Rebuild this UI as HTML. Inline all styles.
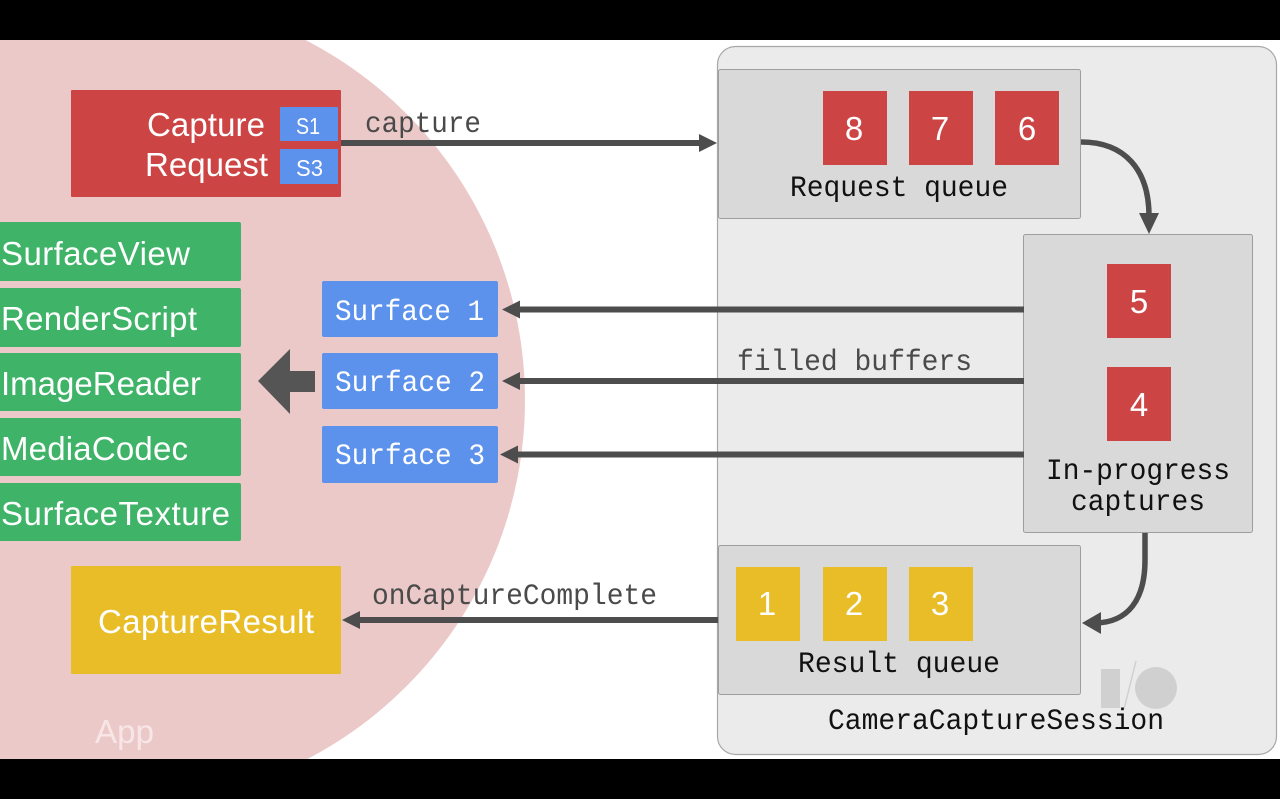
<!DOCTYPE html>
<html>
<head>
<meta charset="utf-8">
<style>
html,body{margin:0;padding:0;background:#000;width:1280px;height:799px;overflow:hidden}
svg{display:block;filter:blur(0.35px)}
.s{font-family:"Liberation Sans",sans-serif;fill:#fff}
.m{font-family:"Liberation Mono",monospace}
</style>
</head>
<body>
<svg width="1280" height="799" viewBox="0 0 1280 799" xmlns="http://www.w3.org/2000/svg">
<defs><clipPath id="c"><rect x="0" y="40" width="1280" height="719"/></clipPath></defs>
<rect width="1280" height="799" fill="#000"/>
<g clip-path="url(#c)">
<rect x="0" y="40" width="1280" height="719" fill="#fff"/>
<circle cx="120" cy="400" r="405" fill="#ecc9c9"/>
<rect x="717.5" y="46.5" width="559" height="708" rx="18" fill="#ebebeb" stroke="#a8a8a8" stroke-width="1.2"/>
</g>

<!-- IO logo -->
<rect x="1101" y="669" width="19" height="39" fill="#d0d0d0"/>
<circle cx="1156" cy="688" r="21" fill="#d0d0d0"/>
<line x1="1136" y1="661" x2="1124" y2="709" stroke="#d0d0d0" stroke-width="1.5"/>

<!-- inner panels -->
<rect x="718.5" y="69.5" width="362" height="149" rx="2" fill="#d9d9d9" stroke="#9e9e9e"/>
<rect x="1023.5" y="234.5" width="229" height="298" rx="2" fill="#d9d9d9" stroke="#9e9e9e"/>
<rect x="718.5" y="545.5" width="362" height="149" rx="2" fill="#d9d9d9" stroke="#9e9e9e"/>

<!-- App boxes -->
<rect x="71" y="90" width="270" height="107" rx="1" fill="#cc4444"/>
<rect x="280" y="107" width="58" height="34" fill="#5c91ec"/>
<rect x="280" y="149" width="58" height="35" fill="#5c91ec"/>
<rect x="-5" y="222" width="246" height="59" rx="2" fill="#3fb367"/>
<rect x="-5" y="288" width="246" height="59" rx="2" fill="#3fb367"/>
<rect x="-5" y="353" width="246" height="58" rx="2" fill="#3fb367"/>
<rect x="-5" y="418" width="246" height="58" rx="2" fill="#3fb367"/>
<rect x="-5" y="483" width="246" height="58" rx="2" fill="#3fb367"/>
<rect x="322" y="281" width="176" height="56" rx="2" fill="#5c91ec"/>
<rect x="322" y="353" width="176" height="56" rx="2" fill="#5c91ec"/>
<rect x="322" y="426" width="176" height="57" rx="2" fill="#5c91ec"/>
<rect x="71" y="566" width="270" height="108" rx="1" fill="#e8bd27"/>

<!-- squares -->
<rect x="823" y="91" width="64" height="74" fill="#cc4444"/>
<rect x="909" y="91" width="64" height="74" fill="#cc4444"/>
<rect x="995" y="91" width="64" height="74" fill="#cc4444"/>
<rect x="1107" y="264" width="64" height="74" fill="#cc4444"/>
<rect x="1107" y="367" width="64" height="74" fill="#cc4444"/>
<rect x="736" y="567" width="64" height="74" fill="#e8bd27"/>
<rect x="823" y="567" width="64" height="74" fill="#e8bd27"/>
<rect x="909" y="567" width="64" height="74" fill="#e8bd27"/>

<!-- connectors -->
<g fill="#4d4d4d" stroke="none">
<rect x="341" y="140" width="362" height="6"/>
<polygon points="717,143 699,134 699,152"/>
<rect x="516" y="306.500" width="508" height="6"/>
<polygon points="502,309.500 520,300.500 520,318.500"/>
<rect x="516" y="378" width="508" height="6"/>
<polygon points="502,381 520,372 520,390"/>
<rect x="516" y="451.500" width="508" height="6"/>
<polygon points="500,454.500 518,445.500 518,463.500"/>
<rect x="358" y="617" width="360" height="6"/>
<polygon points="342,620 360,611 360,629"/>
<polygon points="1149,234 1139,213 1159,213"/>
<polygon points="1082,623 1101,612 1101,634"/>
<polygon points="258,381 290,349 290,371 315,371 315,392 290,392 290,414" fill="#555"/>
</g>
<path d="M1081,142 C1125,142 1149,170 1149,216" fill="none" stroke="#4d4d4d" stroke-width="5.500"/>
<path d="M1145,533 L1145,560 C1145,600 1128,622 1096,623" fill="none" stroke="#4d4d4d" stroke-width="5.500"/>

<!-- sans text -->
<g class="s">
<text x="147" y="136" font-size="33" textLength="118">Capture</text>
<text x="145" y="176" font-size="33" textLength="123">Request</text>
<text x="296" y="134" font-size="23" textLength="24" lengthAdjust="spacingAndGlyphs">S1</text>
<text x="296" y="176" font-size="23" textLength="27" lengthAdjust="spacingAndGlyphs">S3</text>
<text x="1" y="265" font-size="33" textLength="189">SurfaceView</text>
<text x="1" y="330" font-size="33" textLength="196">RenderScript</text>
<text x="1" y="395" font-size="33" textLength="200">ImageReader</text>
<text x="1" y="460" font-size="33" textLength="187">MediaCodec</text>
<text x="1" y="525" font-size="33" textLength="229">SurfaceTexture</text>
<text x="98" y="633" font-size="33" textLength="216">CaptureResult</text>
<text x="95" y="743" font-size="33" textLength="59" style="fill:#f8e6e6">App</text>
<g font-size="33" text-anchor="middle">
<text x="854" y="140">8</text>
<text x="940" y="140">7</text>
<text x="1027" y="140">6</text>
<text x="1139" y="313">5</text>
<text x="1139" y="416">4</text>
<text x="767" y="615">1</text>
<text x="854" y="615">2</text>
<text x="940" y="615">3</text>
</g>
</g>

<!-- mono text -->
<g class="m" font-size="30">
<text x="365" y="132" fill="#4a4a4a" textLength="116" lengthAdjust="spacingAndGlyphs">capture</text>
<text x="737" y="370" fill="#4a4a4a" textLength="235" lengthAdjust="spacingAndGlyphs">filled buffers</text>
<text x="372" y="604" fill="#4a4a4a" textLength="285" lengthAdjust="spacingAndGlyphs">onCaptureComplete</text>
<text x="335" y="320" fill="#fff" textLength="149" lengthAdjust="spacingAndGlyphs">Surface 1</text>
<text x="335" y="391" fill="#fff" textLength="150" lengthAdjust="spacingAndGlyphs">Surface 2</text>
<text x="335" y="464" fill="#fff" textLength="150" lengthAdjust="spacingAndGlyphs">Surface 3</text>
<text x="790" y="196" fill="#111" textLength="218" lengthAdjust="spacingAndGlyphs">Request queue</text>
<text x="798" y="672" fill="#111" textLength="202" lengthAdjust="spacingAndGlyphs">Result queue</text>
<text x="1046" y="479" fill="#111" textLength="184" lengthAdjust="spacingAndGlyphs">In-progress</text>
<text x="1071" y="510" fill="#111" textLength="134" lengthAdjust="spacingAndGlyphs">captures</text>
<text x="828" y="729" fill="#111" textLength="336" lengthAdjust="spacingAndGlyphs">CameraCaptureSession</text>
</g>
</svg>
</body>
</html>
